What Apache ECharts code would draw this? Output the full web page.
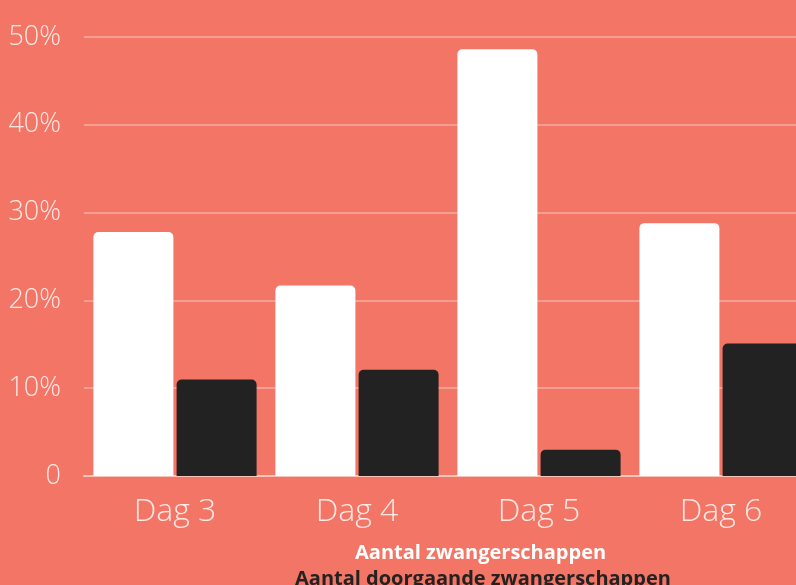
<!DOCTYPE html>
<html>
<head>
<meta charset="utf-8">
<script src="https://cdn.jsdelivr.net/npm/echarts@6/dist/echarts.min.js"></script>
<style>
html, body { margin: 0; padding: 0; background: #f37565; overflow: hidden; }
#chart { width: 820px; height: 585px; }
</style>
</head>
<body>
<div id="chart"></div>
<script>
var categories = ['Dag 3', 'Dag 4', 'Dag 5', 'Dag 6'];
var zwangerschappen = [27.8, 21.7, 48.6, 28.8];
var doorgaande = [11.0, 12.1, 3.0, 15.1];
var seriesNames = ['Aantal zwangerschappen', 'Aantal doorgaande zwangerschappen'];

// chart is a bit wider than the window: the last bar runs off the right edge
var myChart = echarts.init(document.getElementById('chart'));

var option = {
    backgroundColor: '#f37565',
    animation: false,
    textStyle: { fontFamily: 'Open Sans' },
    grid: { left: 84, top: 37, bottom: 109, right: 8 },
    legend: [
        {
            data: [{ name: seriesNames[0], textStyle: { color: '#ffffff' } }],
            left: 345, top: 538,
            icon: 'rect', itemWidth: 0, itemHeight: 0,
            textStyle: { fontSize: 20, fontWeight: 'bold', fontFamily: 'Open Sans' }
        },
        {
            data: [{ name: seriesNames[1], textStyle: { color: '#222222' } }],
            left: 285, top: 564,
            icon: 'rect', itemWidth: 0, itemHeight: 0,
            textStyle: { fontSize: 20, fontWeight: 'bold', fontFamily: 'Open Sans' }
        }
    ],
    xAxis: {
        type: 'category',
        data: categories,
        axisTick: { show: false },
        axisLine: { lineStyle: { color: '#f9c4bc', width: 2 } },
        axisLabel: { color: '#fde9e6', fontSize: 32, fontWeight: 300, margin: 20 }
    },
    yAxis: {
        type: 'value',
        min: 0, max: 50, interval: 10,
        axisLine: { show: false },
        axisTick: { show: false },
        splitLine: { lineStyle: { color: 'rgba(255,255,255,0.3)', width: 2 } },
        axisLabel: {
            color: '#fde9e6', fontSize: 27, fontWeight: 300, margin: 23,
            formatter: function (v) { return v === 0 ? '0' : v + '%'; }
        }
    },
    series: [
        {
            name: seriesNames[0],
            type: 'bar',
            data: zwangerschappen,
            barWidth: 80,
            barGap: '4%',
            itemStyle: { color: '#ffffff', borderRadius: [5, 5, 0, 0] }
        },
        {
            name: seriesNames[1],
            type: 'bar',
            data: doorgaande,
            barWidth: 80,
            itemStyle: { color: '#222222', borderRadius: [5, 5, 0, 0] }
        }
    ]
};

myChart.setOption(option);
window.addEventListener('resize', function () {
    myChart.resize();
});
</script>
</body>
</html>
